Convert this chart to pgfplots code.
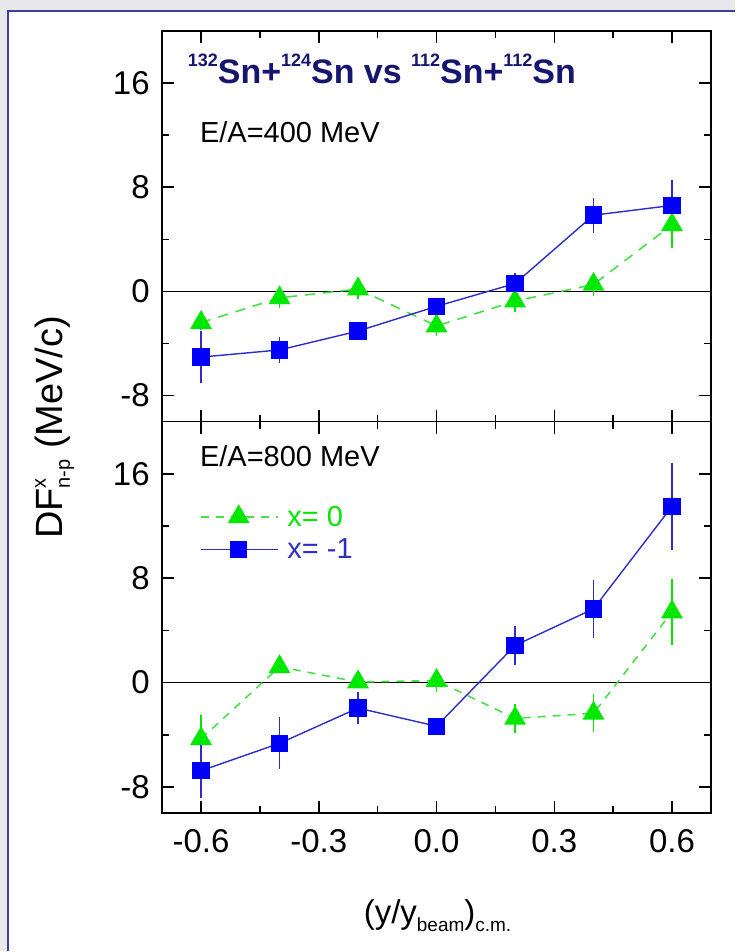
\documentclass[border=0pt]{standalone}
\usepackage{fontspec}
\setmainfont{Liberation Sans}
\usepackage{pgfplots}
\usepackage{pgfplotstable}
\pgfplotsset{compat=1.18}

\definecolor{bggray}{RGB}{232,232,234}
\definecolor{frameblue}{RGB}{62,62,160}
\definecolor{ptgreen}{RGB}{0,232,0}
\definecolor{lngreen}{RGB}{70,225,70}
\definecolor{ptblue}{RGB}{0,0,250}
\definecolor{lnblue}{RGB}{45,45,200}
\definecolor{titlenavy}{RGB}{22,22,112}

% DF^x_{n-p} (MeV/c) versus rapidity; columns: x, value, error
\pgfplotstableread{
x     y      e
-0.6  -2.40  0.6
-0.4  -0.50  0.8
-0.2   0.18  0.8
 0.0  -2.66  0.8
 0.2  -0.75  0.8
 0.4   0.53  0.9
 0.6   5.11  1.75
}\tabAzero
\pgfplotstableread{
x     y      e
-0.6  -5.05  2.0
-0.4  -4.50  1.0
-0.2  -3.05  0.4
 0.0  -1.15  0.4
 0.2   0.60  0.8
 0.4   5.85  1.35
 0.6   6.60  1.95
}\tabAminus
\pgfplotstableread{
x     y      e
-0.6  -4.30  1.8
-0.4   1.21  0.5
-0.2   0.05  0.4
 0.0   0.15  0.9
 0.2  -2.74  1.1
 0.4  -2.35  1.45
 0.6   5.41  2.5
}\tabBzero
\pgfplotstableread{
x     y      e
-0.6  -6.75  2.1
-0.4  -4.65  2.0
-0.2  -1.95  1.2
 0.0  -3.34  0.4
 0.2   2.85  1.5
 0.4   5.65  2.2
 0.6  13.50  3.35
}\tabBminus

\pgfplotsset{
  panel/.style={
    scale only axis, width=550pt,
    xmin=-0.7, xmax=0.7, ymin=-10, ymax=20,
    xtick={-0.6,-0.3,0,0.3,0.6},
    minor xtick={-0.45,-0.15,0.15,0.45},
    ytick={-8,0,8,16}, yticklabels={-8,0,8,16},
    minor ytick={-4,4,12},
    tick align=inside,
    major tick length=12pt, minor tick length=7pt,
    axis line style={line width=1.6pt},
    every tick/.style={black, line width=1.5pt},
    tick label style={font=\fontsize{33}{36}\selectfont, inner sep=0pt},
    yticklabel style={xshift=-12pt},
    xticklabel style={yshift=-16pt},
    /pgf/number format/assume math mode=true,
  },
  zeroser/.style={
    lngreen, line width=1.6pt, dash pattern=on 10pt off 8pt,
    mark=triangle*, mark size=11pt,
    mark options={solid, fill=ptgreen, draw=ptgreen},
    /pgfplots/error bars/y dir=both, /pgfplots/error bars/y explicit,
    /pgfplots/error bars/error mark=none,
    /pgfplots/error bars/error bar style={solid, ptgreen, line width=1.5pt},
  },
  minusser/.style={
    lnblue, line width=1.4pt, solid,
    mark=square*, mark size=8pt,
    mark options={solid, fill=ptblue, draw=ptblue},
    /pgfplots/error bars/y dir=both, /pgfplots/error bars/y explicit,
    /pgfplots/error bars/error mark=none,
    /pgfplots/error bars/error bar style={solid, lnblue, line width=1.5pt},
  },
}

\newcommand{\up}[1]{\raisebox{17pt}{\fontsize{18}{18}\selectfont #1}}

\begin{document}
\begin{tikzpicture}[x=1pt,y=1pt]
\fill[bggray] (0,0) rectangle (736,952);
\fill[white] (8,0) rectangle (736,941);
\draw[frameblue, line width=2pt] (8,0) -- (8,941) -- (736,941);
\useasboundingbox (0,0) rectangle (736,952);

% upper panel: E/A = 400 MeV
\begin{axis}[panel, at={(162pt,530pt)}, anchor=south west, height=391pt,
  xticklabels={}]
\addplot[black, line width=1.3pt, forget plot] coordinates {(-0.7,0) (0.7,0)};
\addplot[zeroser] table[x=x, y=y, y error=e] {\tabAzero};
\addplot[minusser] table[x=x, y=y, y error=e] {\tabAminus};
\node[anchor=base west, text=titlenavy, inner sep=0pt,
  font=\fontsize{34}{38}\selectfont\bfseries] at (axis cs:-0.634,15.95)
  {\up{132}Sn+\up{124}Sn vs \up{112}Sn+\up{112}Sn};
\node[anchor=base west, inner sep=0pt, font=\fontsize{29}{34}\selectfont]
  at (axis cs:-0.603,11.4) {E/A=400 MeV};
\end{axis}

% lower panel: E/A = 800 MeV
\begin{axis}[panel, at={(162pt,138pt)}, anchor=south west, height=392pt,
  xticklabels={-0.6,-0.3,0.0,0.3,0.6},
  legend style={draw=none, fill=none, at={(0.069,0.79)}, anchor=north west,
    inner sep=0pt, row sep=7pt,
    font=\fontsize{29}{34}\selectfont,
    nodes={inner sep=2pt}},
  legend cell align=left,
  legend image code/.code={
    \draw[mark repeat=2, mark phase=2, #1]
      plot coordinates {(0pt,0pt) (38pt,0pt) (77pt,0pt)};
    \path (84pt,0pt);
  },
]
\addplot[black, line width=1.3pt, forget plot] coordinates {(-0.7,0) (0.7,0)};
\addplot[zeroser, dash pattern=on 8pt off 7pt] table[x=x, y=y, y error=e] {\tabBzero};
\addlegendentry{\textcolor{ptgreen}{x= 0}}
\addplot[minusser] table[x=x, y=y, y error=e] {\tabBminus};
\addlegendentry{\textcolor{lnblue}{x= -1}}
\node[anchor=base west, inner sep=0pt, font=\fontsize{29}{34}\selectfont]
  at (axis cs:-0.603,16.55) {E/A=800 MeV};
\end{axis}

% axis titles
\node[rotate=90, anchor=base, inner sep=0pt, font=\fontsize{38}{40}\selectfont]
  at (63,524) {DF\rlap{\raisebox{17pt}{\fontsize{20}{20}\selectfont x}}\raisebox{-7pt}{\fontsize{20}{20}\selectfont n-p} (MeV/c)};
\node[anchor=base, inner sep=0pt, font=\fontsize{33}{36}\selectfont]
  at (438,28) {(y/y\raisebox{-8pt}{\fontsize{19}{19}\selectfont beam})\raisebox{-8pt}{\fontsize{19}{19}\selectfont c.m.}};
\end{tikzpicture}
\end{document}
